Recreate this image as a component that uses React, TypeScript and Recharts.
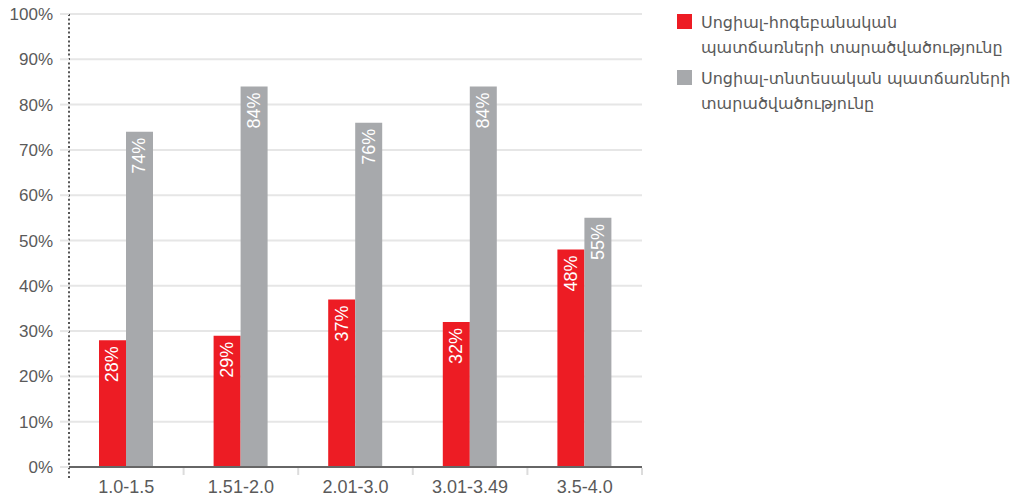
import React from "react";
import {
  BarChart,
  Bar,
  XAxis,
  YAxis,
  CartesianGrid,
  LabelList,
  usePlotArea,
} from "recharts";

const categories = ["1.0-1.5", "1.51-2.0", "2.01-3.0", "3.01-3.49", "3.5-4.0"];
const psychoValues = [28, 29, 37, 32, 48];
const economicValues = [74, 84, 76, 84, 55];
const yTicks = [0, 10, 20, 30, 40, 50, 60, 70, 80, 90, 100];

const psychoName = ["Սոցիալ-հոգեբանական", "պատճառների տարածվածությունը"];
const economicName = ["Սոցիալ-տնտեսական պատճառների", "տարածվածությունը"];

const RED = "#ed1c24";
const GREY = "#a7a9ac";
const TEXT = "#5a5a5a";
const FONT = "Liberation Sans, Arial, sans-serif";

const data = categories.map((c, i) => ({
  cat: c,
  psycho: psychoValues[i],
  economic: economicValues[i],
}));

function BarValue(props: any) {
  const { x, y, width, value } = props;
  const cx = x + width / 2;
  const ty = y + 6;
  return (
    <text
      x={cx}
      y={ty}
      transform={`rotate(-90 ${cx} ${ty})`}
      textAnchor="end"
      dominantBaseline="central"
      fill="#fff"
      fontSize={18}
      fontFamily={FONT}
    >
      {value}%
    </text>
  );
}

// dotted y axis that runs below the baseline, and light ticks between categories
function AxisDecor() {
  const plot = usePlotArea();
  if (!plot) return null;
  const n = categories.length;
  const bottom = plot.y + plot.height;
  return (
    <g>
      {categories.map((_, i) => {
        const bx = plot.x + ((i + 1) * plot.width) / n;
        return (
          <line
            key={i}
            x1={bx}
            x2={bx}
            y1={bottom + 1}
            y2={bottom + 8}
            stroke="#dcdcdc"
            strokeWidth={2}
          />
        );
      })}
      <line
        x1={plot.x}
        x2={plot.x}
        y1={plot.y}
        y2={bottom + 11}
        stroke="#555"
        strokeWidth={2}
        strokeDasharray="2 2.4"
      />
    </g>
  );
}

function LegendItem({ color, lines }: { color: string; lines: string[] }) {
  return (
    <div style={{ display: "flex", alignItems: "flex-start", marginBottom: 10 }}>
      <div
        style={{
          width: 15,
          height: 15,
          background: color,
          marginRight: 9,
          flexShrink: 0,
        }}
      />
      <div style={{ lineHeight: "25px", marginTop: -4 }}>
        {lines.map((l) => (
          <div key={l}>{l}</div>
        ))}
      </div>
    </div>
  );
}

export default function App() {
  return (
    <div style={{ position: "absolute", left: 0, top: 0, width: 1013, height: 498 }}>
      <BarChart
        width={1013}
        height={498}
        data={data}
        margin={{ top: 14, right: 371, bottom: 0, left: 0 }}
        barSize={27}
        barGap={0}
      >
        <CartesianGrid vertical={false} stroke="#e6e6e6" strokeWidth={2} />
        <XAxis
          dataKey="cat"
          height={31}
          tickLine={false}
          tickSize={0}
          tickMargin={13}
          axisLine={{ stroke: "#666", strokeWidth: 2 }}
          tick={{ fontSize: 18, fill: TEXT, fontFamily: FONT }}
        />
        <YAxis
          width={69}
          domain={[0, 100]}
          ticks={yTicks}
          interval={0}
          axisLine={false}
          tickSize={9}
          tickMargin={7}
          tickLine={{ stroke: "#e6e6e6", strokeWidth: 2 }}
          tickFormatter={(v: number) => `${v}%`}
          tick={{ fontSize: 17, fill: TEXT, fontFamily: FONT }}
        />
        <Bar dataKey="psycho" fill={RED} isAnimationActive={false}>
          <LabelList dataKey="psycho" content={<BarValue />} />
        </Bar>
        <Bar dataKey="economic" fill={GREY} isAnimationActive={false}>
          <LabelList dataKey="economic" content={<BarValue />} />
        </Bar>
        <AxisDecor />
      </BarChart>
      <div
        style={{
          position: "absolute",
          left: 677,
          top: 14,
          fontFamily: "DejaVu Sans, sans-serif",
          fontSize: 16,
          color: TEXT,
        }}
      >
        <LegendItem color={RED} lines={psychoName} />
        <LegendItem color={GREY} lines={economicName} />
      </div>
    </div>
  );
}
